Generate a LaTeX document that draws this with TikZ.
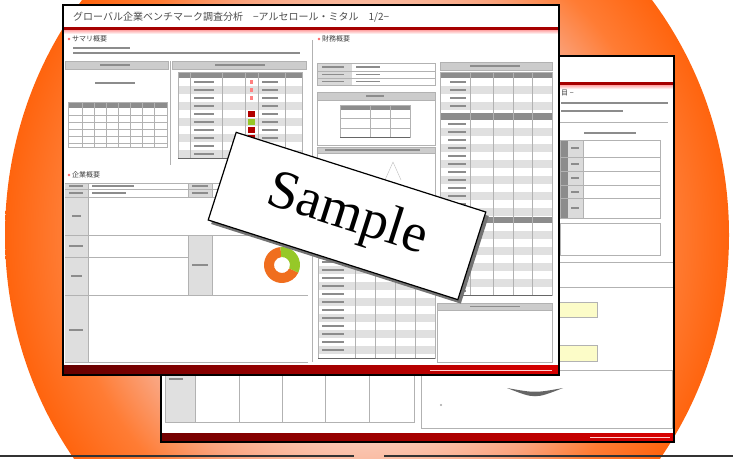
\documentclass[tikz,border=0pt]{standalone}
\usepackage{fontspec}
\setmainfont{Liberation Serif}
\newfontfamily\jpfont{Noto Sans CJK JP}
\usetikzlibrary{calc,shadows}
\definecolor{glowA}{RGB}{255,236,226}
\definecolor{glowB}{RGB}{250,205,188}
\definecolor{glowC}{RGB}{250,163,125}
\definecolor{glowD}{RGB}{255,124,52}
\definecolor{glowE}{RGB}{255,100,14}
\definecolor{memoyellow}{RGB}{252,252,200}
\definecolor{donutorange}{RGB}{240,110,30}
\definecolor{donutgreen}{RGB}{150,200,40}
\pgfdeclareradialshading{orangeglow}{\pgfpoint{0bp}{0bp}}{color(0bp)=(glowA); color(13bp)=(glowB); color(17.5bp)=(glowC); color(21bp)=(glowD); color(25bp)=(glowE); color(50bp)=(glowE)}
\def\smudge[#1](#2)(#3){\draw[#1] (#2) -- ++(#3,0);}
\tikzset{
  pageframe/.style={line width=1.6pt, draw=black, fill=white},
  headbar/.style={fill=black!20, draw=black!30, line width=0.4pt},
  cellline/.style={draw=black!30, line width=0.5pt},
  txtbar/.style={line width=1.5pt, draw=black!45},
  heading/.style={anchor=west, inner sep=0pt, font=\jpfont\fontsize{7}{7}\selectfont, text=black!75},
}

\begin{document}
\begin{tikzpicture}[x=1pt,y=-1pt]
		%%%%% START %%%%%
		\useasboundingbox (0,0) rectangle (733,458);
		\clip (0,0) rectangle (733,458);
		
		\shade[shading=orangeglow] (367,235) ellipse [x radius=362pt, y radius=381pt];
		\draw[line width=1.2pt, black!80] (0,456) -- (354,456);
		\draw[line width=1.2pt, black!80] (384,456) -- (733,456);
		
		%%%%% BACK PAGE %%%%%
		\draw[pageframe] (161,56) rectangle (674,442);
		\fill[red!65!black] (161,82) rectangle (674,85);
		\shade[top color=red!35, bottom color=white] (161,85) rectangle (674,89);
		\node[heading] (backhead) at (561,93) {目 −};
		\smudge[txtbar](561,103)(107)
		\smudge[txtbar](561,111)(62)
		\draw[cellline] (557,122) -- (668,122);
		\smudge[txtbar](584,133)(52)
		
		\fill[black!45] (560,140) rectangle (568,218);
		\fill[black!14] (568,140) rectangle (583,218);
		\draw[cellline] (560,140) rectangle (660,218);
		\foreach \y in {157,171,185,198} \draw[cellline] (560,\y) -- (660,\y);
		\draw[cellline] (583,140) -- (583,218);
		\foreach \y in {148,164,178,192,208} \smudge[txtbar,line width=1.2pt](571,\y)(8)
		\draw[cellline] (560,223) rectangle (660,255);
		\draw[cellline] (557,262) -- (673,262);
		\draw[cellline] (557,287) -- (673,287);
		\draw[cellline, fill=memoyellow] (540,302) rectangle (597,317);
		\draw[cellline, fill=memoyellow] (540,345) rectangle (597,361);
		
		\fill[black!12] (165,370) rectangle (195,422);
		\draw[cellline] (165,370) rectangle (414,422);
		\foreach \x in {195,239,282,325,369} \draw[cellline] (\x,370) -- (\x,422);
		\smudge[txtbar,line width=1.2pt](169,379)(14)
		\draw[cellline] (421,370) rectangle (672,428);
		\fill[black!60] (507,388) .. controls (535,399) .. (563,388) .. controls (535,393) .. (507,388) -- cycle;
		\fill[black!35] (441,405) circle (1.2pt);
		
		\shade[left color=red!45!black, right color=red!85!black] (161,433) rectangle (674,442);
		\smudge[draw=red!20, line width=1pt](590,437.5)(80)
		\draw[line width=1.6pt] (161,56) rectangle (674,442);
		
		%%%%% FRONT PAGE %%%%%
		\draw[pageframe] (63,5) rectangle (559,375);
		\node[anchor=west, inner sep=0pt, font=\jpfont\fontsize{10}{10}\selectfont, text=black!70] (title) at (73,17) {グローバル企業ベンチマーク調査分析　−アルセロール・ミタル　1/2−};
		\fill[red!65!black] (63,27) rectangle (559,30);
		\shade[top color=red!35, bottom color=white] (63,30) rectangle (559,34);
		
		\fill[red!60] (69,39) circle (1.3pt);
		\node[heading] (summary) at (72,39) {サマリ概要};
		\fill[red!60] (319,39) circle (1.3pt);
		\node[heading] (finance) at (322,39) {財務概要};
		\smudge[txtbar,line width=1.2pt](73,48)(57)
		\smudge[txtbar,line width=1.2pt](73,53)(227)
		
		% summary tables
		\draw[headbar] (65,61) rectangle (168,69);
		\smudge[txtbar](100,65)(30)
		\smudge[txtbar](95,83)(40)
		\fill[black!45] (68,102) rectangle (167,108);
		\draw[cellline] (68,102) rectangle (167,147);
		\foreach \x in {82,94,...,154} \draw[cellline] (\x,102) -- (\x,147);
		\foreach \y in {115,122,...,143} \draw[cellline] (68,\y) -- (167,\y);
		\draw[cellline] (170,61) -- (170,165);
		
		\draw[headbar] (172,61) rectangle (306,69);
		\smudge[txtbar](215,65)(50)
		\fill[black!45] (178,72) rectangle (302,78);
		\foreach \y in {86,102,118,134,150} \fill[black!12] (178,\y) rectangle (302,\y+8);
		\draw[cellline] (178,72) rectangle (302,158);
		\foreach \x in {190,222,245,258,285} \draw[cellline] (\x,72) -- (\x,158);
		\draw[line width=1pt, black!60] (178,158) -- (302,158);
		\foreach \y in {82,90,...,154} \smudge[txtbar,line width=1.2pt](194,\y)(20)
		\foreach \y in {82,90,...,154} \smudge[txtbar,line width=1.2pt](262,\y)(16)
		\foreach \y in {82,90,98} \fill[red!50] (250,\y-2) rectangle (253,\y+2);
		\foreach \y in {114,130,138} \fill[red!70!black] (248,\y-3) rectangle (255,\y+3);
		\fill[donutgreen] (248,119) rectangle (255,125);
		\draw[cellline] (312,40) -- (312,362);
		
		% company table
		\fill[red!60] (69,175) circle (1.3pt);
		\node[heading] (company) at (72,175) {企業概要};
		\fill[black!15] (65,183) rectangle (88,197);
		\fill[black!15] (188,183) rectangle (212,197);
		\fill[black!13] (65,197) rectangle (88,362);
		\fill[black!13] (188,235) rectangle (212,295);
		\foreach \y in {183,189,197,235,295,362} \draw[cellline] (65,\y) -- (308,\y);
		\draw[cellline] (65,257) -- (188,257);
		\draw[cellline] (88,183) -- (88,362);
		\draw[cellline] (188,183) -- (188,197);
		\draw[cellline] (212,183) -- (212,197);
		\draw[cellline] (188,235) -- (188,295);
		\draw[cellline] (212,235) -- (212,295);
		\smudge[txtbar,line width=1.2pt](69,186)(14)
		\smudge[txtbar,line width=1.2pt](69,193)(14)
		\smudge[txtbar,line width=1.2pt](92,186)(42)
		\smudge[txtbar,line width=1.2pt](92,193)(34)
		\smudge[txtbar,line width=1.2pt](192,186)(16)
		\smudge[txtbar,line width=1.2pt](192,193)(16)
		\smudge[txtbar,line width=1.2pt](72,216)(9)
		\smudge[txtbar,line width=1.2pt](69,246)(14)
		\smudge[txtbar,line width=1.2pt](71,276)(11)
		\smudge[txtbar,line width=1.2pt](69,330)(14)
		\smudge[txtbar,line width=1.2pt](192,265)(16)
		\fill[donutorange] ($(282,265)+(95:18pt)$) arc[start angle=95, end angle=335, radius=18pt] -- ($(282,265)+(335:8pt)$) arc[start angle=335, end angle=95, radius=8pt] -- cycle;
		\fill[donutgreen] ($(282,265)+(-25:18pt)$) arc[start angle=-25, end angle=95, radius=18pt] -- ($(282,265)+(95:8pt)$) arc[start angle=95, end angle=-25, radius=8pt] -- cycle;
		
		% finance tables
		\fill[black!15] (317,63) rectangle (352,85);
		\draw[cellline] (317,63) rectangle (435,85);
		\draw[cellline] (317,71) -- (435,71);
		\draw[cellline] (317,78) -- (435,78);
		\foreach \y in {67,74.5,81.5} \smudge[txtbar,line width=1.2pt](322,\y)(22)
		\foreach \y in {67,74.5,81.5} \smudge[txtbar,line width=1.2pt](356,\y)(24)
		\draw[headbar] (317,92) rectangle (435,100);
		\smudge[txtbar](366,96)(18)
		\draw[cellline] (317,100) rectangle (435,145);
		\fill[black!45] (340,105) rectangle (410,110);
		\draw[cellline] (340,105) rectangle (410,137);
		\foreach \x in {370,390} \draw[cellline] (\x,105) -- (\x,137);
		\foreach \y in {118,128} \draw[cellline] (340,\y) -- (410,\y);
		\draw[line width=1pt, black!60] (340,137) -- (410,137);
		\draw[headbar] (317,147) rectangle (435,153);
		\smudge[txtbar](325,150)(95)
		\draw[cellline] (317,153) rectangle (435,252);
		\draw[black!25] (385,180) -- (393,162) -- (401,180);
		
		\foreach \y in {266,282,...,346} \fill[black!12] (318,\y) rectangle (435,\y+8);
		\draw[cellline] (318,258) rectangle (435,358);
		\foreach \x in {355,375,395,415} \draw[cellline] (\x,258) -- (\x,358);
		\foreach \y in {262,270,...,354} \smudge[txtbar,line width=1.2pt](322,\y)(22)
		\draw[line width=1pt, black!60] (318,358) -- (435,358);
		
		\draw[headbar] (440,62) rectangle (552,70);
		\smudge[txtbar](470,66)(50)
		\foreach \y in {86,102,128,144,160,176,192,208,231,247,263,279} \fill[black!12] (440,\y) rectangle (552,\y+8);
		\fill[black!45] (440,72) rectangle (552,78);
		\fill[black!45] (440,113) rectangle (552,120);
		\fill[black!45] (440,217) rectangle (552,223);
		\draw[cellline] (440,72) rectangle (552,295);
		\foreach \x in {470,493,513,532} \draw[cellline] (\x,72) -- (\x,295);
		\foreach \y in {82,90,98,106} \smudge[txtbar,line width=1.2pt](450,\y)(16)
		\foreach \y in {124,132,...,212} \smudge[txtbar,line width=1.2pt](448,\y)(18)
		\foreach \y in {227,235,...,291} \smudge[txtbar,line width=1.2pt](448,\y)(18)
		\draw[line width=1pt, black!60] (440,295) -- (552,295);
		\draw[headbar] (437,303) rectangle (552,310);
		\smudge[txtbar](470,306.5)(50)
		\draw[cellline] (437,310) rectangle (552,362);
		
		\shade[left color=red!40!black, right color=red!85!black] (63,365) rectangle (559,375);
		\smudge[draw=red!20, line width=1pt](430,370)(122)
		\draw[line width=1.6pt] (63,5) rectangle (559,375);
		
		%%%%% CARD %%%%%
		\node[draw, line width=1.2pt, fill=white, minimum width=262pt, minimum height=92pt, rotate=-17.7,
			drop shadow={opacity=1, fill=black!55, shadow xshift=3pt, shadow yshift=-4pt},
			font=\fontsize{55}{55}\selectfont] (sample) at (347,216) {Sample};
		%%%%% END %%%%%
\end{tikzpicture}
\end{document}
